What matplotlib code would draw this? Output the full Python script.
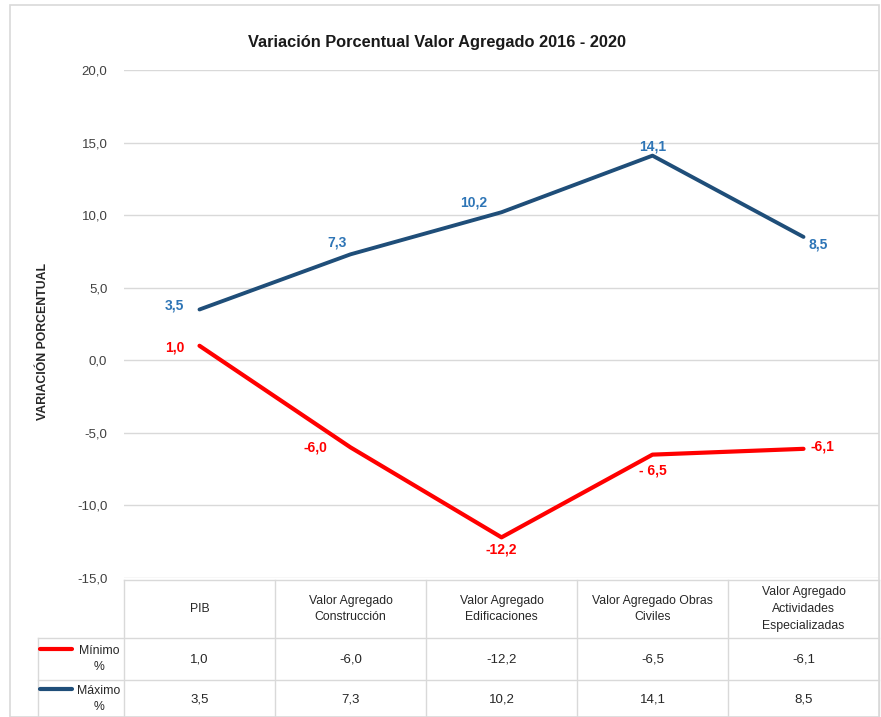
import matplotlib.pyplot as plt
from matplotlib.patches import Rectangle

# datos del grafico
categorias = ["PIB", "Valor Agregado\nConstrucción", "Valor Agregado\nEdificaciones",
              "Valor Agregado Obras\nCiviles", "Valor Agregado\nActividades\nEspecializadas"]
minimo = [1.0, -6.0, -12.2, -6.5, -6.1]
maximo = [3.5, 7.3, 10.2, 14.1, 8.5]
etiquetas_min = ["1,0", "-6,0", "-12,2", "- 6,5", "-6,1"]
etiquetas_max = ["3,5", "7,3", "10,2", "14,1", "8,5"]
series = ["Mínimo\n%", "Máximo\n%"]

ROJO = "#FF0000"
AZUL = "#1F4E79"
AZUL_TXT = "#2E75B6"
GRIS = "#D9D9D9"

plt.rcParams["font.family"] = ["Liberation Sans", "DejaVu Sans"]

W, H = 881, 717
fig = plt.figure(figsize=(W / 100, H / 100), dpi=100)

# marco exterior
fig.patches.append(Rectangle((10 / W, 0), 869 / W, 712 / H, transform=fig.transFigure,
                             fill=False, edgecolor=GRIS, lw=1.2))

x0, x1 = 124, 879
ytop, ybot = 70, 578
ax = fig.add_axes([x0 / W, 1 - ybot / H, (x1 - x0) / W, (ybot - ytop) / H])
x = range(len(categorias))
ax.plot(x, maximo, color=AZUL, lw=2.8, solid_capstyle="round", zorder=3)
ax.plot(x, minimo, color=ROJO, lw=3.0, solid_capstyle="round", zorder=3)
ax.set_xlim(-0.5, 4.5)
ax.set_ylim(-15, 20)
ax.set_yticks(range(-15, 21, 5))
ax.set_yticklabels([f"{v:.1f}".replace(".", ",") for v in range(-15, 21, 5)],
                   fontsize=9.5, color="#404040")
ax.tick_params(axis="y", length=0, pad=12)
ax.set_xticks([])
ax.grid(axis="y", color=GRIS, lw=1)
ax.set_axisbelow(True)
for s in ax.spines.values():
    s.set_visible(False)

# etiquetas de datos (desplazamiento en pixeles)
off_max = [(-25, 4), (-13, 12), (-28, 10), (0, 9), (15, -8)]
off_min = [(-25, -2), (-35, 0), (0, -12), (0, -16), (19, 2)]
for i in x:
    ax.annotate(etiquetas_max[i], (i, maximo[i]), xytext=off_max[i], textcoords="offset pixels",
                ha="center", va="center", fontsize=10, fontweight="bold", color=AZUL_TXT)
    ax.annotate(etiquetas_min[i], (i, minimo[i]), xytext=off_min[i], textcoords="offset pixels",
                ha="center", va="center", fontsize=10, fontweight="bold", color=ROJO)

fig.text(437 / W, 1 - 42 / H, "Variación Porcentual Valor Agregado 2016 - 2020",
         ha="center", va="center", fontsize=11.8, fontweight="bold", color="#1a1a1a")
fig.text(43 / W, 1 - 341 / H, "VARIACIÓN PORCENTUAL", rotation=90, ha="center", va="center",
         fontsize=8.8, fontweight="bold", color="#262626")

# tabla de datos
tab = fig.add_axes([x0 / W, 0, (x1 - x0) / W, (H - 580) / H])
tab.set_xlim(-0.5, 4.5)
tab.set_ylim(H - 580, 0)
tab.axis("off")
col_w = (x1 - x0) / 5
xl = -0.5 - (x0 - 38) / col_w
kw = dict(color=GRIS, lw=1, clip_on=False)
tab.plot([-0.5, 4.5], [0, 0], **kw)
tab.plot([xl, 4.5], [58, 58], **kw)
tab.plot([xl, 4.5], [100, 100], **kw)
tab.plot([xl, xl], [58, 140], **kw)
for c in range(6):
    tab.plot([c - 0.5, c - 0.5], [0, 140], **kw)
for i, cat in enumerate(categorias):
    tab.text(i, 29, cat, ha="center", va="center", fontsize=8.8, color="#262626", linespacing=1.5)
    tab.text(i, 79, f"{minimo[i]:.1f}".replace(".", ","), ha="center", va="center",
             fontsize=9.5, color="#262626")
    tab.text(i, 119, f"{maximo[i]:.1f}".replace(".", ","), ha="center", va="center",
             fontsize=9.5, color="#262626")
for j, (nombre, col, yc) in enumerate(zip(series, [ROJO, AZUL], [79, 119])):
    tab.plot([xl + 2 / col_w, xl + 34 / col_w], [yc - 10, yc - 10], color=col, lw=3,
             solid_capstyle="round", clip_on=False)
    tab.text(-0.5 - 25 / col_w, yc, nombre, ha="center", va="center", fontsize=8.8,
             color="#262626", linespacing=1.4)

fig.savefig("out.png", dpi=100)
